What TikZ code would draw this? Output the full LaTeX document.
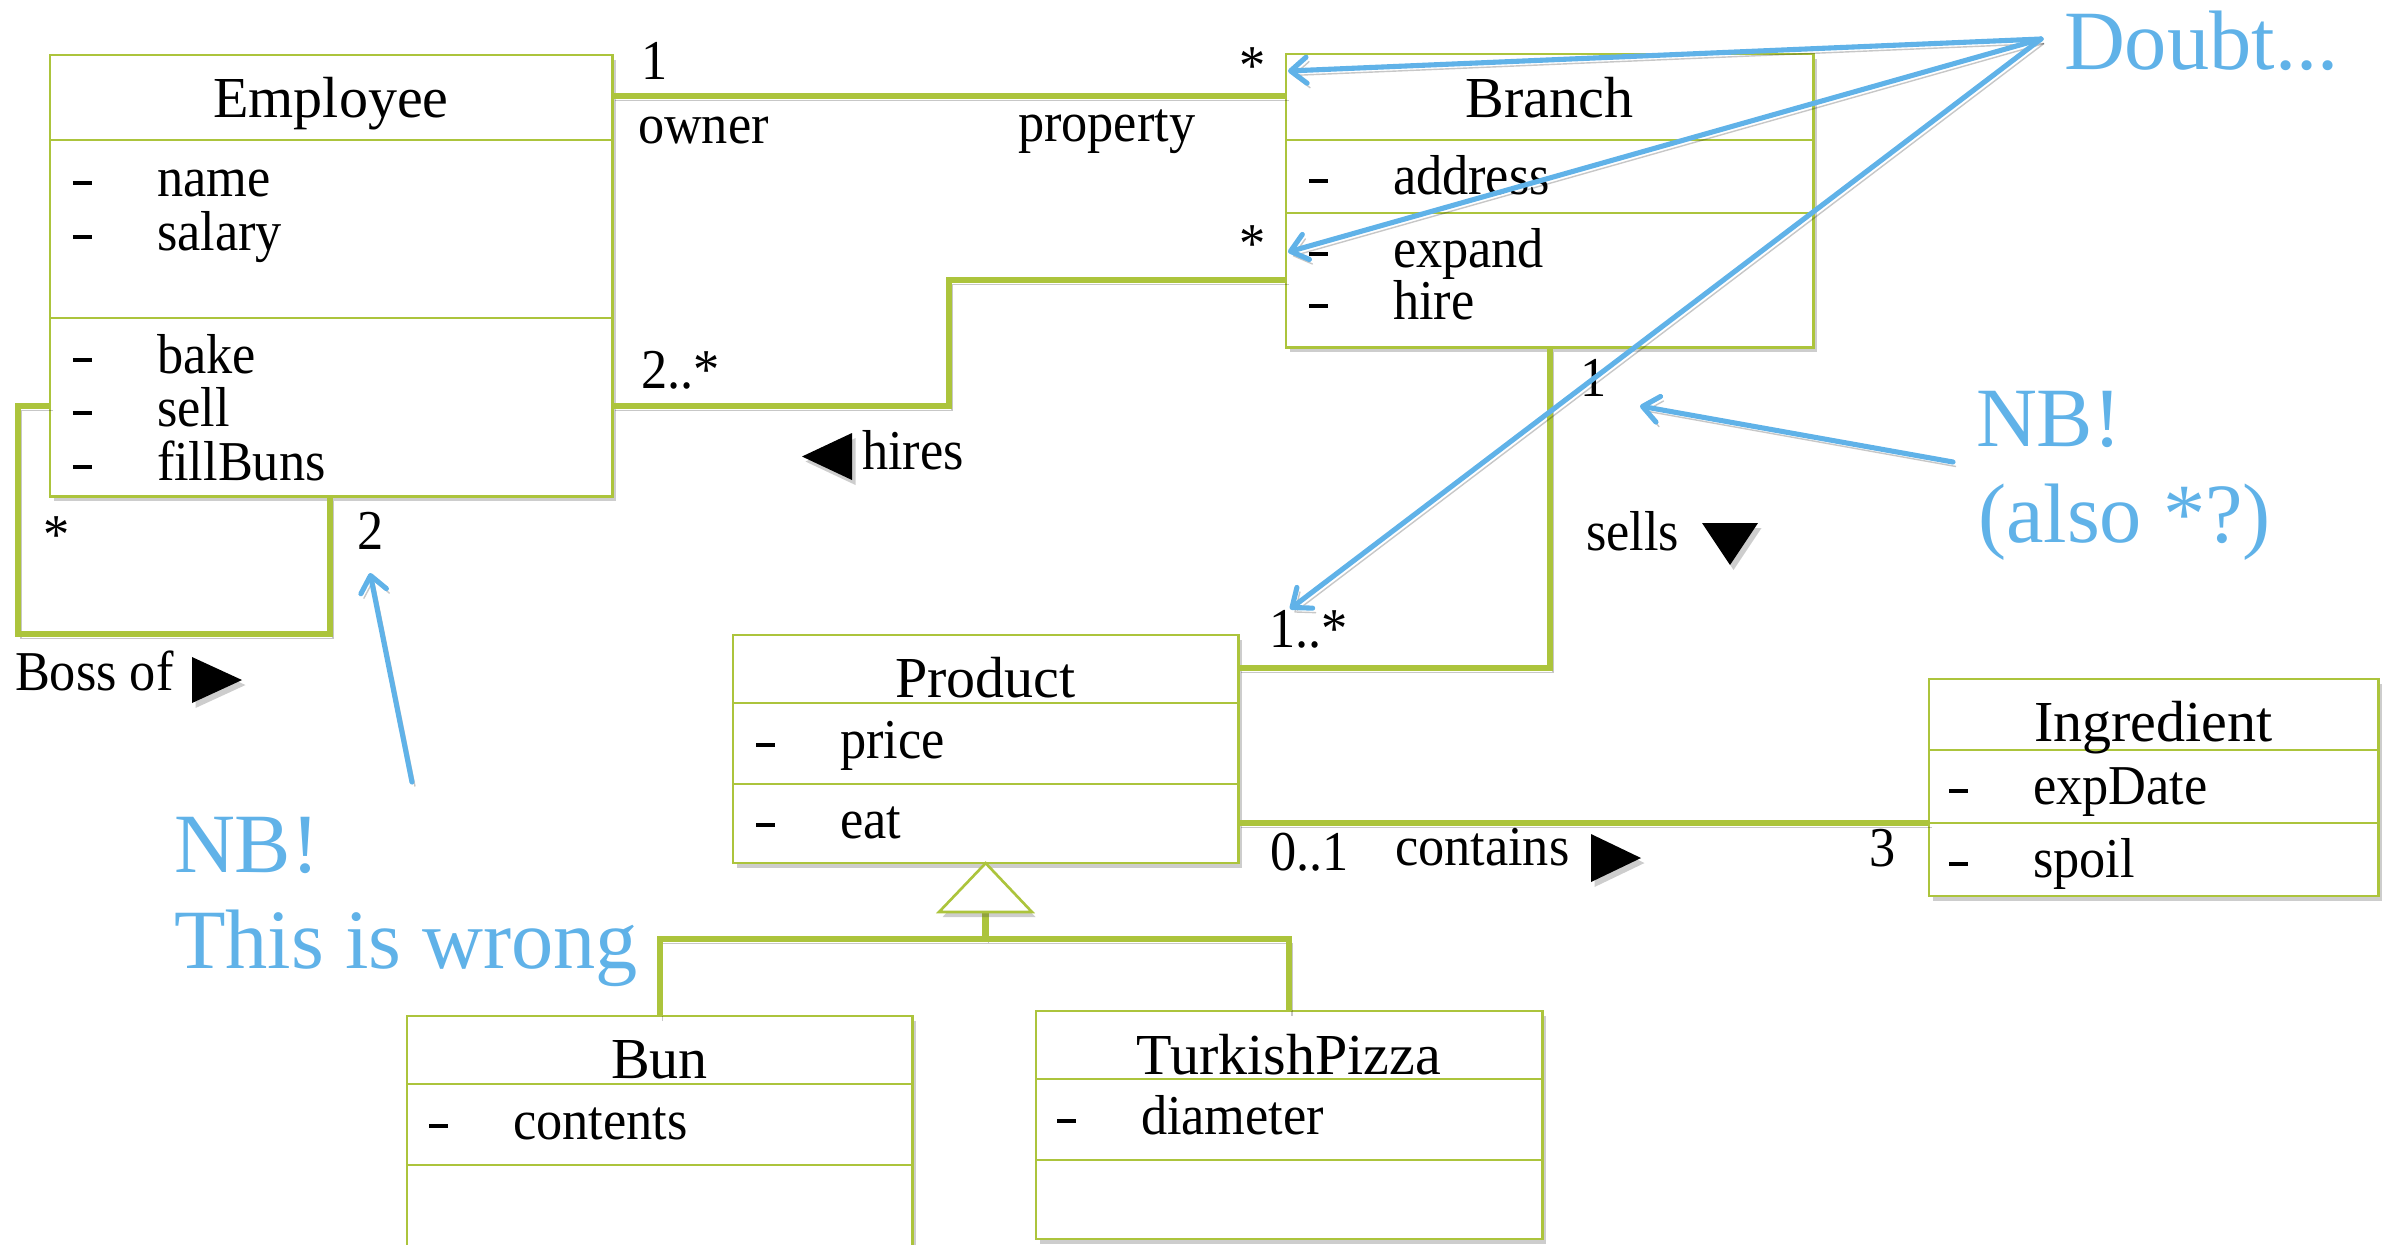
\documentclass[tikz,border=0pt]{standalone}
\usepackage{fontspec}
\setmainfont{Liberation Serif}
\newfontfamily\labelserif{Liberation Serif}[FakeStretch=0.93]
\usetikzlibrary{shadows,arrows.meta}
\definecolor{umlgreen}{RGB}{172,196,60}
\definecolor{noteblue}{RGB}{96,178,232}
\begin{document}
\begin{tikzpicture}[x=0.01cm,y=-0.01cm,
  boxshadow/.style={drop shadow={shadow xshift=0.035cm, shadow yshift=-0.05cm, opacity=0.28, fill=black!70}},
  classbox/.style={draw=umlgreen, line width=0.75pt, fill=white, inner sep=0pt, outer sep=0pt,
    anchor=north west, boxshadow},
  divider/.style={draw=umlgreen, line width=0.75pt},
  lineshadow/.style={preaction={draw=black, opacity=0.22, transform canvas={xshift=0.03cm, yshift=-0.045cm}}},
  assoc/.style={draw=umlgreen, line width=1.75pt, lineshadow},
  gentri/.style={draw=umlgreen, line width=0.75pt, fill=white, line join=miter, boxshadow},
  title/.style={font=\fontsize{16.5}{19}\selectfont, inner sep=0pt, outer sep=0pt, anchor=base},
  txt/.style={font=\labelserif\fontsize{16}{19}\selectfont, inner sep=0pt, outer sep=0pt},
  note/.style={font=\fontsize{24}{28}\selectfont, text=noteblue, inner sep=0pt, outer sep=0pt, anchor=base west},
  notearrow/.style={draw=noteblue, line width=1.45pt, line cap=round,
    -{Straight Barb[length=0.16cm, width=0.26cm, line cap=round, line join=round]}, lineshadow},
  direction/.style={fill=black, boxshadow}
]
\useasboundingbox (0,0) rectangle (2399,1244);
\clip (0,0) rectangle (2399,1244);

% attribute / operation line: private marker and name
\newcommand\umlmember[4]{%
  \node[txt, anchor=base west] (#1-dash) at (#2,#3) {\rule[0.115cm]{0.19cm}{0.04cm}};
  \node[txt, anchor=base west] (#1) at ({#2+84},#3) {#4};}

% ---------------- class boxes ----------------
\node[classbox, minimum width=5.62cm, minimum height=4.41cm] (emp) at (50,55) {};
\draw[divider] (emp.west |- 0,140) -- (emp.east |- 0,140);
\draw[divider] (emp.west |- 0,318) -- (emp.east |- 0,318);
\node[title] (empT) at (331,117) {Employee};
\umlmember{empName}{73}{196}{name}
\umlmember{empSalary}{73}{250}{salary}
\umlmember{empBake}{73}{373}{bake}
\umlmember{empSell}{73}{426}{sell}
\umlmember{empFill}{73}{480}{fillBuns}

\node[classbox, minimum width=5.27cm, minimum height=2.93cm] (br) at (1286,54) {};
\draw[divider] (br.west |- 0,140) -- (br.east |- 0,140);
\draw[divider] (br.west |- 0,213) -- (br.east |- 0,213);
\node[title] (brT) at (1549.5,117) {Branch};
\umlmember{brAddr}{1309}{194}{address}
\umlmember{brExp}{1309}{267}{expand}
\umlmember{brHire}{1309}{319}{hire}

\node[classbox, minimum width=5.05cm, minimum height=2.28cm] (prod) at (733,635) {};
\draw[divider] (prod.west |- 0,703) -- (prod.east |- 0,703);
\draw[divider] (prod.west |- 0,784) -- (prod.east |- 0,784);
\node[title] (prodT) at (985.5,697) {Product};
\umlmember{prodPrice}{756}{758}{price}
\umlmember{prodEat}{756}{838}{eat}

\node[classbox, minimum width=4.49cm, minimum height=2.17cm] (ing) at (1929,679) {};
\draw[divider] (ing.west |- 0,750) -- (ing.east |- 0,750);
\draw[divider] (ing.west |- 0,823) -- (ing.east |- 0,823);
\node[title] (ingT) at (2153.5,741) {Ingredient};
\umlmember{ingExp}{1949}{804}{expDate}
\umlmember{ingSpoil}{1949}{877}{spoil}

\node[classbox, minimum width=5.05cm, minimum height=3.2cm] (bun) at (407,1016) {};
\draw[divider] (bun.west |- 0,1084) -- (bun.east |- 0,1084);
\draw[divider] (bun.west |- 0,1165) -- (bun.east |- 0,1165);
\node[title] (bunT) at (659.5,1078) {Bun};
\umlmember{bunCont}{429}{1139}{contents}

\node[classbox, minimum width=5.06cm, minimum height=2.28cm] (tp) at (1036,1011) {};
\draw[divider] (tp.west |- 0,1079) -- (tp.east |- 0,1079);
\draw[divider] (tp.west |- 0,1160) -- (tp.east |- 0,1160);
\node[title] (tpT) at (1289,1074) {TurkishPizza};
\umlmember{tpDiam}{1057}{1134}{diameter}

% ---------------- associations ----------------
% Employee owns Branch
\draw[assoc] (emp.east |- 0,96) -- (br.west |- 0,96);
\node[txt, anchor=base west] (mOwn1) at (641,79) {1};
\node[txt, anchor=base west] (rOwner) at (638,143) {owner};
\node[txt, anchor=base west] (rProp) at (1018,141) {property};
\node[txt, anchor=base west] (mOwnStar) at (1239,84) {*};

% Branch hires Employee
\draw[assoc] (emp.east |- 0,406) -- (949,406) -- (949,280) -- (br.west |- 0,280);
\node[txt, anchor=base west] (mHire2) at (641,388) {2..*};
\node[txt, anchor=base west] (mHireStar) at (1239,262) {*};
\fill[direction] (852,433) -- (852,480) -- (802,456.5) -- cycle;
\node[txt, anchor=base west] (lHires) at (862,469) {hires};

% Employee is boss of Employee
\draw[assoc] (emp.west |- 0,406) -- (18,406) -- (18,634) -- (330,634) -- (330,0 |- emp.south);
\node[txt, anchor=base west] (mBossStar) at (43,553) {*};
\node[txt, anchor=base west] (mBoss2) at (357,549) {2};
\node[txt, anchor=base west] (lBoss) at (15,690) {Boss of};
\fill[direction] (192,657) -- (192,703) -- (242,680) -- cycle;

% Branch sells Product
\draw[assoc] (1550,0 |- br.south) -- (1550,668) -- (prod.east |- 0,668);
\node[txt, anchor=base west] (mSells1) at (1580,396) {1};
\node[txt, anchor=base west] (lSells) at (1586,550) {sells};
\fill[direction] (1702,523) -- (1758,523) -- (1730,565) -- cycle;
\node[txt, anchor=base west] (mSellsMany) at (1269,647) {1..*};

% Product contains Ingredient
\draw[assoc] (prod.east |- 0,823) -- (ing.west |- 0,823);
\node[txt, anchor=base west] (mCont01) at (1270,870) {0..1};
\node[txt, anchor=base west] (lCont) at (1395,865) {contains};
\fill[direction] (1591,834) -- (1591,882) -- (1641,858) -- cycle;
\node[txt, anchor=base west] (mCont3) at (1869,866) {3};

% Bun and TurkishPizza specialise Product
\coordinate (genTop) at (prod.south);
\coordinate (genBase) at (985.5,912);
\coordinate (genJoin) at (985.5,939);
\draw[assoc] (genBase) -- (genJoin) -| (bun.north);
\draw[assoc] (genJoin) -| (tp.north);
\draw[gentri] (genTop) -- (939,912) -- (1032,912) -- cycle;

% ---------------- remarks ----------------
\node[note] (doubt) at (2064,69) {Doubt...};
\coordinate (doubtSrc) at (2041,39);
\coordinate (doubtA) at (1288,71);
\coordinate (doubtB) at (1288,252);
\coordinate (doubtC) at (1290,609);
\draw[notearrow] (doubtSrc) -- (doubtA);
\draw[notearrow] (doubtSrc) -- (doubtB);
\draw[notearrow] (doubtSrc) -- (doubtC);

\node[note] (nbRight) at (1976,446) {NB!};
\node[note] (alsoStar) at (1978,542) {(also *?)};
\coordinate (nbRightSrc) at (1953,462);
\coordinate (nbRightDst) at (1640,406);
\draw[notearrow] (nbRightSrc) -- (nbRightDst);

\node[note] (nbLeft) at (174,872) {NB!};
\node[note] (wrong) at (174,968) {This is wrong};
\coordinate (nbLeftSrc) at (412,782);
\coordinate (nbLeftDst) at (370,573);
\draw[notearrow] (nbLeftSrc) -- (nbLeftDst);
\end{tikzpicture}
\end{document}
